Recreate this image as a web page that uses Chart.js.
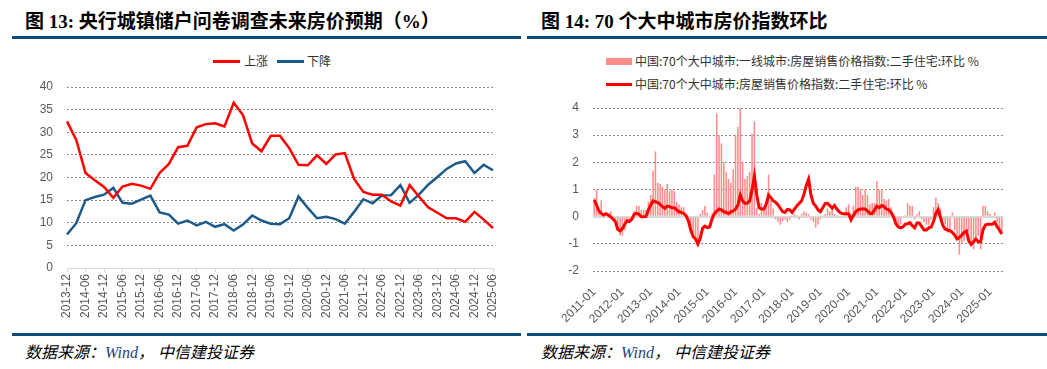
<!DOCTYPE html>
<html>
<head>
<meta charset="utf-8">
<script src="https://cdn.jsdelivr.net/npm/chart.js@4/dist/chart.umd.min.js"></script>
<style>
  html, body { margin: 0; padding: 0; background: #fff; }
  #page { position: relative; width: 1047px; height: 369px; overflow: hidden; }
  .title { position: absolute; top: 6px; font: bold 19px "Liberation Serif", "Noto Sans CJK SC", serif; color: #000; white-space: nowrap; }
  .rule { position: absolute; height: 3px; background: #0b4c7c; }
  .src { position: absolute; top: 339px; font: italic 16px "Liberation Serif", "Noto Sans CJK SC", serif; color: #000; white-space: nowrap; }
  .src b { font-weight: normal; color: #1f3f7a; }
  .leg { position: absolute; font: 12px "Noto Sans CJK SC", sans-serif; color: #333; line-height: 16px; white-space: nowrap; }
  .mk { position: absolute; }
  canvas { position: absolute; }
</style>
</head>
<body>
<div id="page">
  <div class="title" style="left:25px">图 13: 央行城镇储户问卷调查未来房价预期（%）</div>
  <div class="title" style="left:541px">图 14: 70 个大中城市房价指数环比</div>
  <div class="rule" style="left:12px; width:509px; top:36px"></div>
  <div class="rule" style="left:527px; width:520px; top:36px"></div>

  <div class="mk" style="left:213px; top:60px; width:27px; height:3px; background:#ff0000"></div>
  <div class="leg" style="left:244px; top:53px">上涨</div>
  <div class="mk" style="left:277px; top:60px; width:27px; height:3px; background:#1c5a8a"></div>
  <div class="leg" style="left:307px; top:53px">下降</div>

  <div class="mk" style="left:606px; top:58px; width:26px; height:7px; background:#ff8a8a"></div>
  <div class="leg" style="left:635px; top:53px">中国:70个大中城市:一线城市:房屋销售价格指数:二手住宅:环比 %</div>
  <div class="mk" style="left:606px; top:83px; width:26px; height:3px; background:#ff0000"></div>
  <div class="leg" style="left:635px; top:76px">中国:70个大中城市:房屋销售价格指数:二手住宅:环比 %</div>

  <canvas id="c13" width="520" height="250" style="left:0; top:80px"></canvas>
  <canvas id="c14" width="522" height="235" style="left:525px; top:95px"></canvas>

  <div class="rule" style="left:12px; width:509px; top:333px"></div>
  <div class="rule" style="left:527px; width:520px; top:333px"></div>
  <div class="src" style="left:25px">数据来源：<b>Wind</b>，&nbsp;中信建投证券</div>
  <div class="src" style="left:541px">数据来源：<b>Wind</b>，&nbsp;中信建投证券</div>
</div>

<script>
  // months "YYYY-MM" from a start month, stepping by `step` months
  function monthLabels(y, m, count, step) {
    var out = [];
    for (var i = 0; i < count; i++) {
      var t = (y * 12 + (m - 1)) + i * step;
      var mm = (t % 12) + 1;
      out.push(Math.floor(t / 12) + "-" + (mm < 10 ? "0" + mm : mm));
    }
    return out;
  }

  // Fig 13: quarterly, 2013-12 .. 2025-06
  var quarters = monthLabels(2013, 12, 47, 3);
  var expectUp = [
    32.4, 28.3, 21.0, 19.4, 17.9, 15.5, 18.0, 18.6, 18.2, 17.5,
    21.0, 23.0, 26.7, 27.0, 31.1, 31.8, 32.0, 31.3, 36.5, 33.8,
    27.5, 25.8, 29.2, 29.2, 26.5, 22.8, 22.7, 24.9, 23.0, 25.1,
    25.4, 19.7, 16.8, 16.2, 16.2, 14.7, 13.8, 18.3, 15.8, 13.4,
    12.2, 11.0, 11.0, 10.2, 12.4, 10.7, 8.8
  ];
  var expectDown = [
    7.4, 9.9, 15.0, 15.7, 16.2, 17.7, 14.4, 14.2, 15.1, 16.0,
    12.3, 11.8, 9.8, 10.5, 9.4, 10.2, 9.1, 9.7, 8.3, 9.6,
    11.6, 10.5, 9.8, 9.7, 11.0, 15.8, 13.3, 11.0, 11.3, 10.8,
    9.8, 12.4, 15.2, 14.3, 16.0, 16.1, 18.3, 14.4, 16.2, 18.4,
    20.1, 21.9, 23.1, 23.6, 21.0, 22.8, 21.6
  ];

  // Fig 14: monthly, 2011-01 .. 2025-06
  var months = monthLabels(2011, 1, 174, 1);
  var tier1Mom = [
    0.68, 1.0, 0.2, 0.6, 0.1, 0.1, 0.1, 0.2, 0.02, -0.1,
    -0.4, -0.7, -0.7, -0.5, -0.2, -0.15, -0.05, 0.2, 0.4, 0.4,
    0.25, 0.25, 0.25, 0.55, 0.8, 1.7, 2.4, 1.25, 1.2, 1.1,
    1.0, 1.2, 0.95, 1.0, 0.95, 0.55, 0.45, 0.35, 0.35, 0.05,
    -0.1, -0.5, -0.75, -0.9, -1.0, 0.1, 0.25, 0.4, 0.15, 0.05,
    0.1, 1.55, 3.8, 3.0, 2.7, 2.0, 1.65, 1.4, 1.25, 1.75,
    3.0, 3.3, 4.0, 2.0, 1.4, 1.5, 1.65, 3.05, 3.5, 0.3,
    0.1, 0.5, 0.3, 0.4, 1.55, 0.6, 0.3, -0.1, -0.2, -0.3,
    -0.15, -0.1, -0.2, -0.1, 0.05, 0.1, 0.05, -0.1, 0.1, 0.2,
    0.15, 0.1, -0.1, -0.2, -0.4, -0.3, -0.1, 0.05, 0.1, 0.3,
    0.2, 0.3, 0.1, 0.05, 0.0, -0.05, 0.05, 0.35, 0.45, 0.1,
    0.4, 1.1, 1.1, 1.0, 0.8, 1.0, 0.8, 0.45, 0.5, 0.5,
    1.3, 1.0, 1.0, 0.65, 0.6, 0.65, 0.35, 0.1, -0.2, -0.3,
    -0.3, 0.0, 0.05, 0.5, 0.4, 0.4, -0.1, 0.1, 0.2, -0.1,
    -0.2, -0.3, -0.3, -0.1, 0.35, 0.7, 0.5, 0.3, -0.1, -0.3,
    -0.6, -0.5, 0.15, -0.5, -0.8, -1.4, -1.0, -0.9, -0.7, -0.55,
    -1.1, -1.2, -0.9, -0.7, -1.2, 0.4, 0.4, 0.2, 0.1, -0.05,
    0.15, -0.2, -0.6, -0.6
  ];
  var allMom = [
    0.62, 0.43, 0.21, 0.12, 0.06, 0.11, 0.06, -0.01, -0.09, -0.18,
    -0.47, -0.53, -0.43, -0.28, -0.15, -0.18, -0.09, 0.09, 0.12, 0.09,
    0.0, 0.0, 0.01, 0.25, 0.43, 0.58, 0.55, 0.52, 0.45, 0.37,
    0.31, 0.39, 0.37, 0.33, 0.33, 0.25, 0.18, 0.16, 0.12, 0.04,
    -0.16, -0.49, -0.74, -0.82, -1.01, -0.8, -0.43, -0.35, -0.4, -0.38,
    -0.09, 0.11, 0.21, 0.28, 0.25, 0.18, 0.16, 0.11, 0.18, 0.21,
    0.28, 0.43, 0.8, 0.58, 0.49, 0.5, 0.58, 0.98, 1.5, 0.8,
    0.33, 0.28, 0.28, 0.46, 0.8, 0.7, 0.58, 0.53, 0.43, 0.31,
    0.18, 0.16, 0.27, 0.25, 0.16, 0.28, 0.39, 0.49, 0.58, 0.82,
    1.14, 1.38, 0.8, 0.49, 0.39, 0.25, 0.18, 0.33, 0.48, 0.49,
    0.41, 0.31, 0.41, 0.28, 0.18, 0.12, 0.11, 0.11, 0.1, -0.12,
    0.04, 0.18, 0.25, 0.28, 0.28, 0.28, 0.21, 0.12, 0.12, 0.25,
    0.39, 0.33, 0.41, 0.37, 0.28, 0.25, 0.16, 0.0, -0.25, -0.37,
    -0.41, -0.38, -0.28, -0.26, -0.22, -0.33, -0.41, -0.23, -0.23, -0.37,
    -0.49, -0.49, -0.41, -0.38, -0.18, 0.12, 0.26, -0.04, -0.33, -0.46,
    -0.49, -0.52, -0.58, -0.68, -0.82, -0.77, -0.68, -0.58, -0.53, -0.9,
    -1.02, -0.92, -0.82, -0.92, -0.92, -0.49, -0.31, -0.28, -0.28, -0.28,
    -0.21, -0.37, -0.49, -0.64
  ];

  var tickFont = { family: "'Liberation Sans', Arial, sans-serif", size: 12 };
  var tickColor = "#595959";
  var dotGrid = "#8c8c8c";

  Chart.defaults.animation = false;
  Chart.defaults.plugins.legend.display = false;
  Chart.defaults.plugins.tooltip.enabled = false;

  // fixed axis box so the plot area lands where the reference has it
  function fixY(width) {
    return function (s) { s.width = width; s.paddingTop = 0; s.paddingBottom = 0; };
  }

  new Chart(document.getElementById("c13"), {
    type: "line",
    data: {
      labels: quarters,
      datasets: [
        { data: expectUp, borderColor: "#ff0000", borderWidth: 2.5, pointRadius: 0, tension: 0 },
        { data: expectDown, borderColor: "#1c5a8a", borderWidth: 2.5, pointRadius: 0, tension: 0 }
      ]
    },
    options: {
      responsive: false,
      layout: { padding: { left: 0, right: 27, top: 7, bottom: 0 } },
      scales: {
        x: {
          afterFit: function (s) { s.height = 62; },
          ticks: {
            autoSkip: false, minRotation: 90, maxRotation: 90, padding: 2,
            color: tickColor, font: tickFont,
            callback: function (v, i) { return i % 2 === 0 ? quarters[i] : null; }
          },
          grid: { drawOnChartArea: false, tickLength: 4, color: "#d9d9d9" },
          border: { color: "#d9d9d9", width: 1 }
        },
        y: {
          min: 0, max: 40,
          afterFit: fixY(67),
          ticks: { stepSize: 5, padding: 14, color: tickColor, font: tickFont },
          grid: {
            drawTicks: false,
            color: function (c) { return c.tick.value === 0 ? "rgba(0,0,0,0)" : dotGrid; }
          },
          border: { display: false, dash: [2, 2] }
        }
      }
    }
  });

  new Chart(document.getElementById("c14"), {
    type: "bar",
    data: {
      labels: months,
      datasets: [
        { type: "bar", data: tier1Mom, backgroundColor: "#ff8a8a", barPercentage: 0.65, categoryPercentage: 1, order: 1 },
        { type: "line", data: allMom, borderColor: "#ff0000", borderWidth: 3, pointRadius: 0, tension: 0, order: 0 }
      ]
    },
    options: {
      responsive: false,
      layout: { padding: { left: 0, right: 44, top: 13, bottom: 0 } },
      scales: {
        x: {
          afterFit: function (s) { s.height = 59; },
          ticks: {
            autoSkip: false, minRotation: 45, maxRotation: 45, padding: 6,
            color: tickColor, font: tickFont,
            callback: function (v, i) { return i % 12 === 0 ? months[i] : null; }
          },
          grid: { display: false },
          border: { display: false }
        },
        y: {
          min: -2, max: 4,
          afterFit: fixY(68),
          ticks: { stepSize: 1, padding: 14, color: tickColor, font: tickFont },
          grid: {
            drawTicks: false,
            color: function (c) { return c.tick.value === 0 ? "#d9d9d9" : dotGrid; },
            lineWidth: function (c) { return c.tick.value === 0 ? 2 : 1; }
          },
          border: {
            display: false,
            dash: function (c) { return c.tick && c.tick.value === 0 ? [] : [2, 2]; }
          }
        }
      }
    }
  });
</script>
</body>
</html>
